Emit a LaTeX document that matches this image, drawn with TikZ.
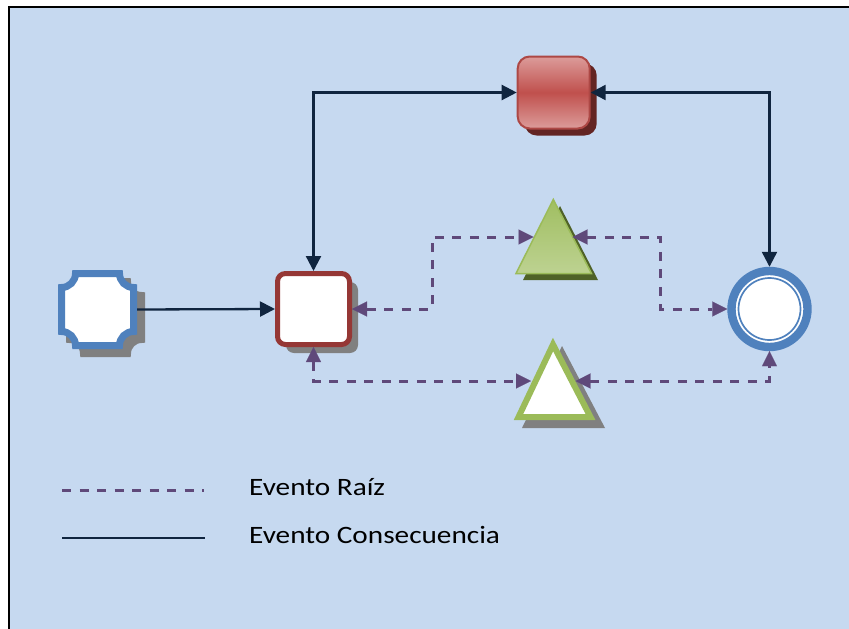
\documentclass[tikz,border=0pt]{standalone}
\usepackage{fontspec}
\usepackage{graphicx}
\setmainfont{Carlito}
\usetikzlibrary{arrows.meta,shadows}
\definecolor{cbg}{HTML}{C6D9F0}
\definecolor{cnavy}{HTML}{10253F}
\definecolor{cpurple}{HTML}{5F497A}
\definecolor{cblue}{HTML}{4F81BD}
\definecolor{cdred}{HTML}{953735}
\definecolor{cred}{HTML}{C0504D}
\definecolor{credl}{HTML}{DC9C9A}
\definecolor{credsh}{HTML}{632523}
\definecolor{cgreen}{HTML}{9BBB59}
\definecolor{cgreenl}{HTML}{C3D69B}
\definecolor{cgreensh}{HTML}{4F6228}
\definecolor{cshadow}{HTML}{808080}
\newcommand{\concavebox}[5]{(#1+#5,#2) -- (#3-#5,#2) arc[start angle=180,end angle=270,radius=#5pt] -- (#3,#4-#5) arc[start angle=90,end angle=180,radius=#5pt] -- (#1+#5,#4) arc[start angle=0,end angle=90,radius=#5pt] -- (#1,#2+#5) arc[start angle=270,end angle=360,radius=#5pt] -- cycle}
\tikzset{
  solidline/.style={draw=cnavy, line width=2.3pt},
  dashline/.style={draw=cpurple, line width=3pt, dash pattern=on 9pt off 8.5pt},
  solidarrows/.style={solidline, {Triangle[length=15pt,width=15pt]}-{Triangle[length=15pt,width=15pt]}},
  dasharrows/.style={dashline, {Triangle[length=15pt,width=15pt,fill=cpurple,line width=0.1pt]}-{Triangle[length=15pt,width=15pt,fill=cpurple,line width=0.1pt]}},
  legendtext/.style={anchor=base west, inner sep=0pt, font=\fontsize{25}{30}\selectfont, text=black},
}
\begin{document}
\begin{tikzpicture}[x=1pt,y=-1pt]
\useasboundingbox (0,0) rectangle (849,629);
% background
\fill[cbg] (9,6.5) rectangle (849,629);
\draw[black, line width=2pt] (9,629) -- (9,6.5) -- (849,6.5);

% start event (concave corners)
\node[minimum size=79pt, inner sep=0pt] (start) at (97.5,309.5) {};
\filldraw[cshadow, line width=7pt] \concavebox{69.5}{281.5}{141.5}{353.5}{14};
\filldraw[fill=white, draw=cblue, line width=7pt] \concavebox{61.5}{273.5}{133.5}{345.5}{14};

% task
\node[draw=cdred, fill=white, line width=5pt, rounded corners=8pt, minimum width=72pt, minimum height=71pt, inner sep=0pt,
  drop shadow={shadow xshift=8.5pt, shadow yshift=-8.5pt, fill=cshadow, opacity=1}] (task) at (313.5,309) {};

% red top box
\node[draw=cred!90!black, line width=2pt, rounded corners=12pt, minimum size=72pt, inner sep=0pt,
  top color=credl, bottom color=credl, middle color=cred,
  drop shadow={shadow xshift=7pt, shadow yshift=-7pt, fill=credsh, opacity=1}] (red) at (553.7,92.5) {};

% green triangle
\fill[cgreensh] (560,206) -- (523,280) -- (598,280) -- cycle;
\shade[top color=cgreen!95!white, middle color=cgreen!92!black, bottom color=cgreenl!85!cgreen] (553.3,199.5) -- (516,273.5) -- (591.5,273.5) -- cycle;
\draw[cgreen, line width=1.5pt, line join=miter] (553.3,199.5) -- (516,273.5) -- (591.5,273.5) -- cycle;
\coordinate (gl) at (533.5,237);
\coordinate (gr) at (572.5,237);

% white triangle
\fill[cshadow] (562,346) -- (522,428) -- (605,428) -- cycle;
\filldraw[fill=white, draw=cgreen, line width=6pt, line join=miter] (553,344.5) -- (518.5,417) -- (590.5,417) -- cycle;
\coordinate (wl) at (531,381);
\coordinate (wr) at (575.5,381);

% end event
\node[circle, draw=cblue, fill=white, line width=8.4pt, minimum size=76pt, inner sep=0pt] (end) at (769.5,309) {};
\draw[cblue, line width=1.7pt] (end.center) circle[radius=31pt];

% solid connectors
\draw[solidline, -{Triangle[length=15pt,width=15pt]}] (start.east) -- (task.west);
\draw[solidarrows] (task.north) |- (red.west);
\draw[solidarrows] (red.east) -| (end.north);

% dashed connectors
\draw[dasharrows] (task.east) -- (432,309) |- (gl);
\draw[dasharrows] (gr) -- (660,237) |- (end.west);
\draw[dasharrows] (task.south) |- (wl);
\draw[dasharrows] (wr) -| (end.south);

% legend
\coordinate (l1a) at (62,490);
\coordinate (l1b) at (204,490);
\coordinate (l2a) at (62,538);
\coordinate (l2b) at (205,538);
\draw[dashline] (l1a) -- (l1b);
\draw[solidline] (l2a) -- (l2b);
\node[legendtext] (t1) at (249,495) {\scalebox{1.17}[1]{Evento Raíz}};
\node[legendtext] (t2) at (249,543.5) {\scalebox{1.17}[1]{Evento Consecuencia}};
\end{tikzpicture}
\end{document}
